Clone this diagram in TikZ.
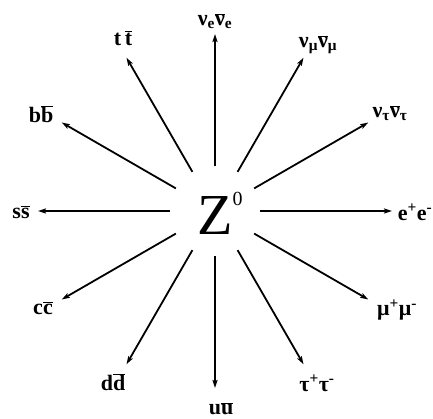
\documentclass[tikz,border=0pt]{standalone}
\usepackage{fontspec}
\setmainfont{Liberation Serif}
\usetikzlibrary{arrows.meta}
\newcommand{\obar}[1]{\ensuremath{\overline{\hbox{#1}}}}
\begin{document}
\begin{tikzpicture}[x=1pt,y=1pt,
  arr/.style={line width=1.8pt,-{Stealth[length=8pt,width=5pt,inset=1.5pt]}},
  lab/.style={inner sep=0pt,font=\fontsize{22}{22}\selectfont\bfseries}]
\useasboundingbox (0,0) rectangle (433,419);
\coordinate (C) at (215,208);
\node[circle,minimum size=90pt,inner sep=0pt] (Z) at (C) {};
\node[inner sep=0pt,anchor=base west] (Ztext) at (197,184)
  {\fontsize{58}{58}\selectfont Z\raisebox{29pt}{\fontsize{20}{20}\selectfont 0}};
\foreach \a in {0,30,...,330}{
  \coordinate (t\a) at ([shift={(\a:177)}]C);
  \draw[arr] (Z.\a) -- (t\a);
}
\node[lab] (l90)  at (215,398) {ν\textsubscript{e}\obar{ν}\textsubscript{e}};
\node[lab] (l60)  at (318,374) {ν\textsubscript{μ}\obar{ν}\textsubscript{μ}};
\node[lab] (l30)  at (390,306) {ν\textsubscript{τ}\obar{ν}\textsubscript{τ}};
\node[lab] (l0)   at (415,207) {e\textsuperscript{+}e\textsuperscript{-}};
\node[lab] (l330) at (397,109) {μ\textsuperscript{+}μ\textsuperscript{-}};
\node[lab] (l300) at (317,36)  {τ\textsuperscript{+}τ\textsuperscript{-}};
\node[lab] (l270) at (221,10)  {u\obar{u}};
\node[lab] (l240) at (113,37)  {d\obar{d}};
\node[lab] (l210) at (43,111)  {c\obar{c}};
\node[lab] (l180) at (21,207)  {s\obar{s}};
\node[lab] (l150) at (41,305)  {b\obar{b}};
\node[lab] (l120) at (123,381) {t\,\obar{t}};
\end{tikzpicture}
\end{document}
